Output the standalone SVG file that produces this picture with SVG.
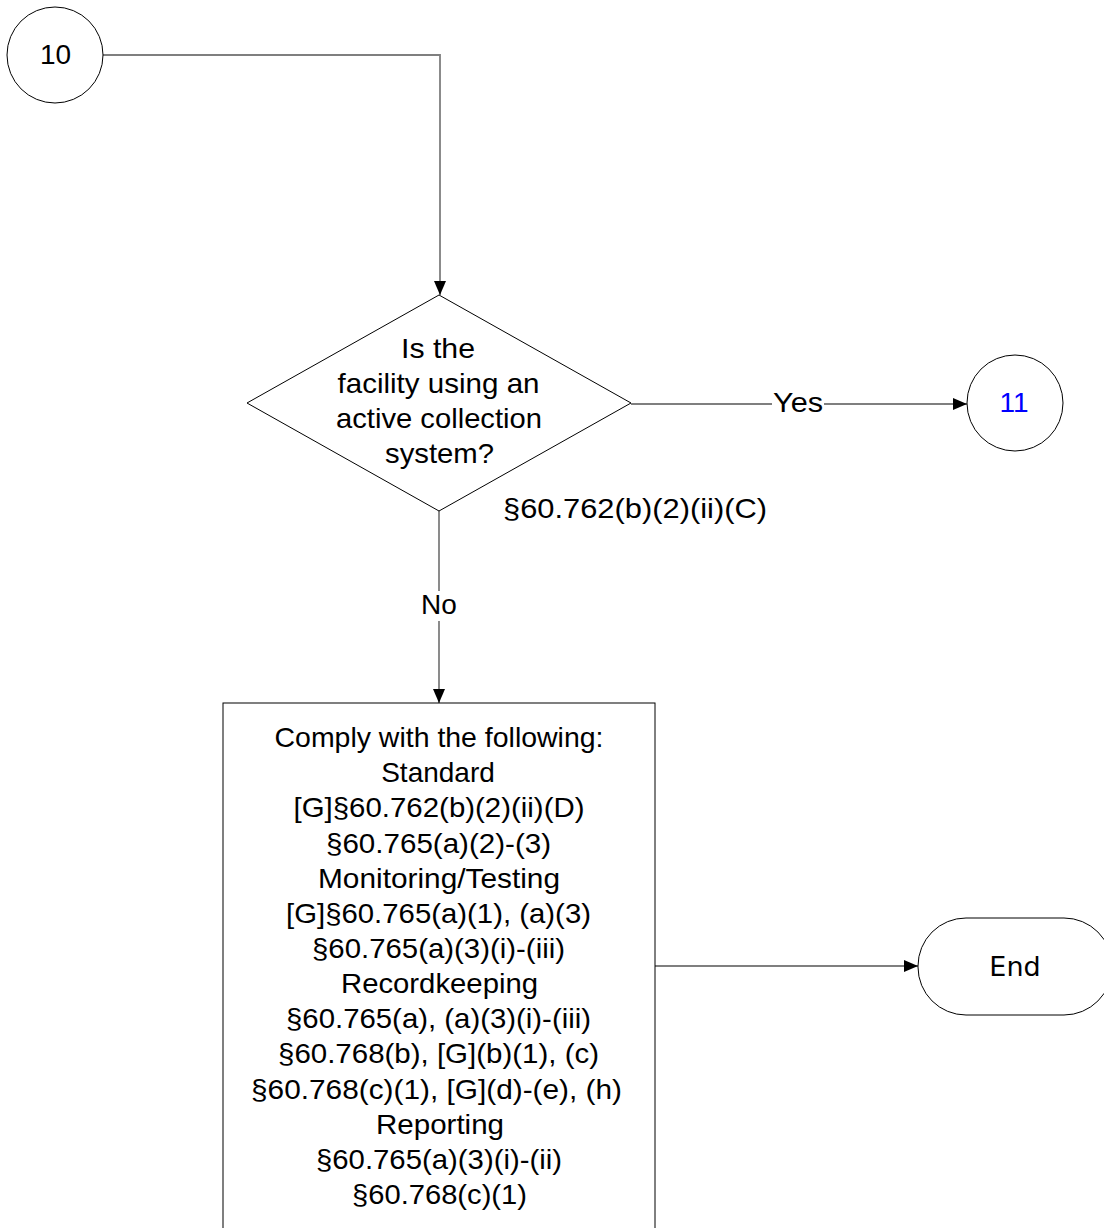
<svg xmlns="http://www.w3.org/2000/svg" width="1104" height="1228" viewBox="0 0 1104 1228">
<style>
.shape{fill:#fff;stroke:#000;stroke-width:1}
.conn{fill:none;stroke:#7f7f7f;stroke-width:1.8}
text{font-family:"Liberation Sans",Arial,sans-serif;font-size:28px;fill:#000;text-anchor:middle}
.st{lengthAdjust:spacingAndGlyphs}
</style>
<defs>
<marker id="arr" viewBox="0 0 14 12" refX="14" refY="6" markerWidth="14" markerHeight="12" markerUnits="userSpaceOnUse" orient="auto">
<path d="M0,0 L14,6 L0,12 Z" fill="#000"/>
</marker>
</defs>
<g id="connectors">
<path class="conn" d="M103,55 H440 V295" marker-end="url(#arr)"/>
<path class="conn" d="M631,404 H967" marker-end="url(#arr)"/>
<path class="conn" d="M439,511 V703" marker-end="url(#arr)"/>
<path class="conn" d="M655,966 H918" marker-end="url(#arr)"/>
<rect x="772" y="390" width="52" height="28" fill="#fff"/>
<text x="798" y="412" textLength="50" lengthAdjust="spacingAndGlyphs">Yes</text>
<rect x="418" y="591" width="42" height="30" fill="#fff"/>
<text x="439" y="614">No</text>
</g>
<g id="node10">
<circle class="shape" cx="55" cy="55" r="48"/>
<text x="55.5" y="64">10</text>
</g>
<g id="decision">
<polygon class="shape" points="439,295 631,403 439,511 247,403"/>
<text x="438" y="358" textLength="74" lengthAdjust="spacingAndGlyphs">Is the</text>
<text x="438.5" y="393" textLength="202" lengthAdjust="spacingAndGlyphs">facility using an</text>
<text x="439" y="428" textLength="206" lengthAdjust="spacingAndGlyphs">active collection</text>
<text x="439.5" y="463" textLength="109" lengthAdjust="spacingAndGlyphs">system?</text>
<text x="635" y="518" textLength="264" lengthAdjust="spacingAndGlyphs">§60.762(b)(2)(ii)(C)</text>
</g>
<g id="node11">
<circle class="shape" cx="1015" cy="403" r="48"/>
<text x="1014" y="412" style="fill:#0000ff">11</text>
</g>
<g id="comply">
<rect class="shape" x="223" y="703" width="432" height="560"/>
<text x="439" y="747" textLength="329" lengthAdjust="spacingAndGlyphs">Comply with the following:</text>
<text x="438" y="782">Standard</text>
<text x="439" y="817" textLength="291" lengthAdjust="spacingAndGlyphs">[G]§60.762(b)(2)(ii)(D)</text>
<text x="438.5" y="852.5" textLength="225" lengthAdjust="spacingAndGlyphs">§60.765(a)(2)-(3)</text>
<text x="439" y="887.6" textLength="242" lengthAdjust="spacingAndGlyphs">Monitoring/Testing</text>
<text x="438.5" y="922.8" textLength="305" lengthAdjust="spacingAndGlyphs">[G]§60.765(a)(1), (a)(3)</text>
<text x="438.5" y="958" textLength="253" lengthAdjust="spacingAndGlyphs">§60.765(a)(3)(i)-(iii)</text>
<text x="439.5" y="993" textLength="197" lengthAdjust="spacingAndGlyphs">Recordkeeping</text>
<text x="438.5" y="1028.2" textLength="305" lengthAdjust="spacingAndGlyphs">§60.765(a), (a)(3)(i)-(iii)</text>
<text x="438.5" y="1063.3" textLength="321" lengthAdjust="spacingAndGlyphs">§60.768(b), [G](b)(1), (c)</text>
<text x="436.5" y="1098.5" textLength="371" lengthAdjust="spacingAndGlyphs">§60.768(c)(1), [G](d)-(e), (h)</text>
<text x="440" y="1133.6" textLength="128" lengthAdjust="spacingAndGlyphs">Reporting</text>
<text x="439" y="1168.8" textLength="246" lengthAdjust="spacingAndGlyphs">§60.765(a)(3)(i)-(ii)</text>
<text x="439.5" y="1204" textLength="175" lengthAdjust="spacingAndGlyphs">§60.768(c)(1)</text>
</g>
<g id="end">
<rect class="shape" x="918" y="918" width="194" height="97" rx="48" ry="48"/>
<text x="1015" y="976" style="font-family:'DejaVu Sans',sans-serif;font-size:27px">End</text>
</g>
</svg>
